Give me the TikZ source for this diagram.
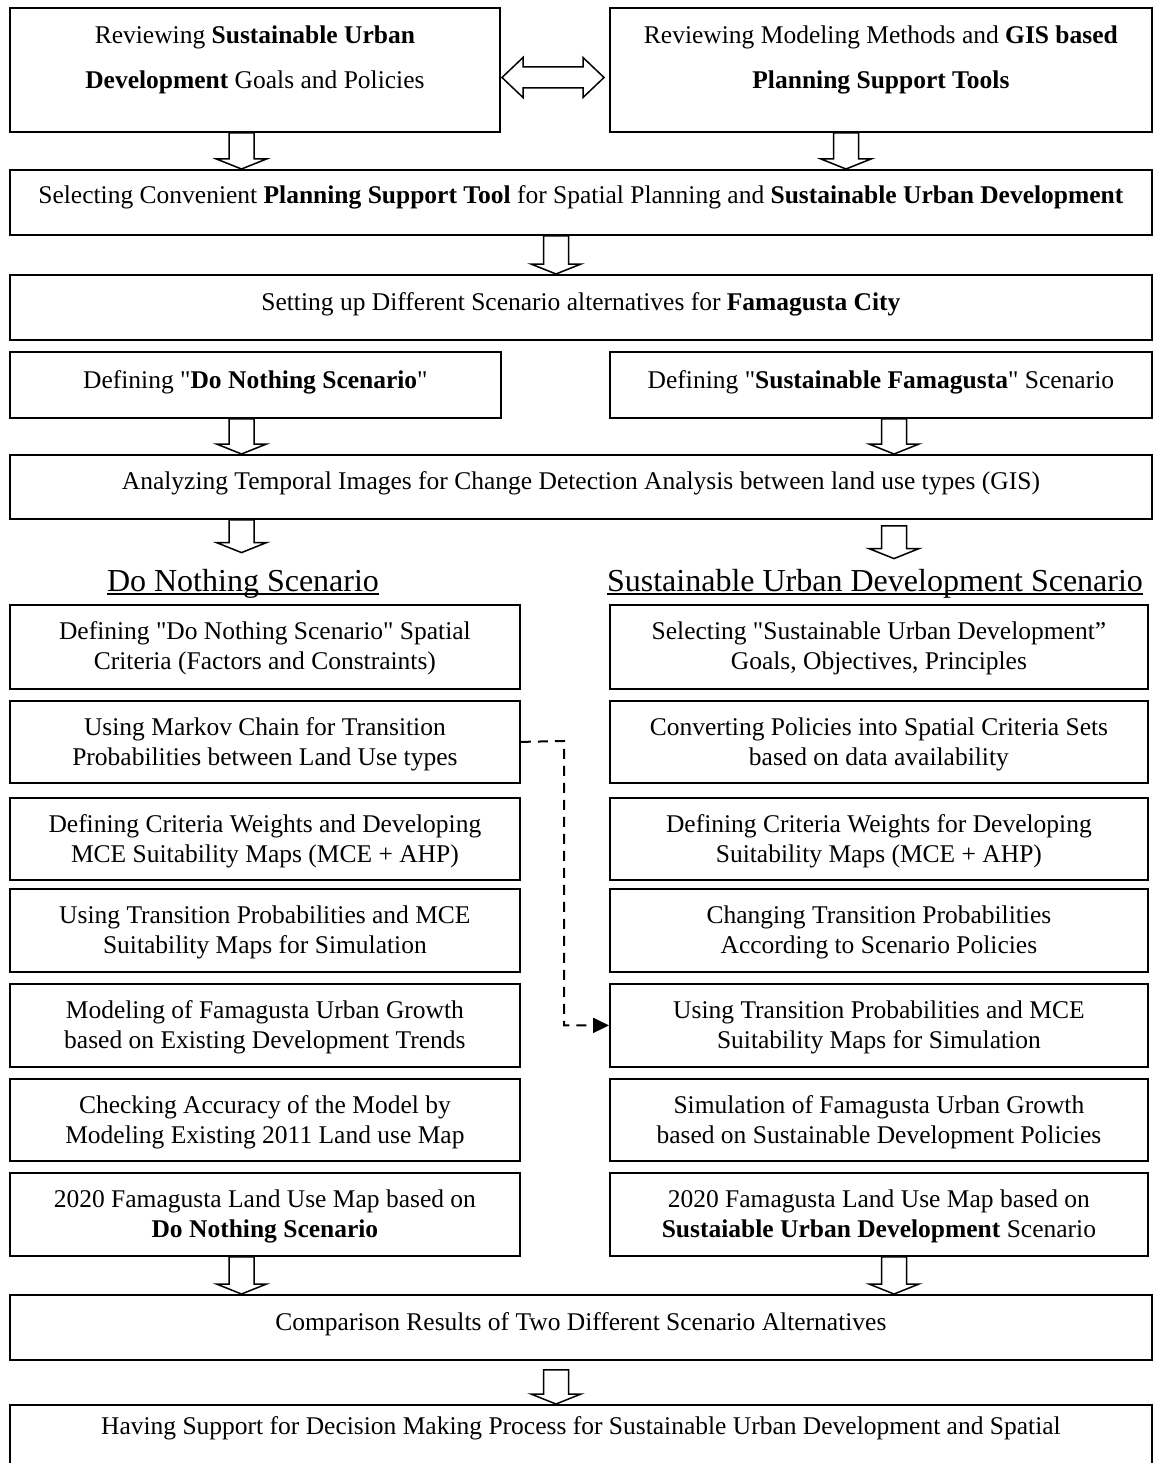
\documentclass[tikz,border=0pt]{standalone}
\usepackage{fontspec}
\setmainfont{Liberation Serif}[Ligatures=TeXOff]
\usetikzlibrary{arrows.meta,calc}

\tikzset{
  box/.style={draw, line width=1.8pt, inner sep=0pt, anchor=north west},
  bodytext/.style={font=\fontsize{25.5}{30}\selectfont, inner sep=0pt, align=center},
  toptext/.style={font=\fontsize{25.5}{45}\selectfont, inner sep=0pt, align=center},
  headtext/.style={font=\fontsize{32}{38}\selectfont, inner sep=0pt, anchor=base},
  blockarrow/.style={draw, line width=1.5pt, line join=miter},
  link/.style={line width=2pt, dash pattern=on 10pt off 7pt, -{Triangle[length=16pt,width=15pt]}},
}

% rectangle given by its corners (x1,y1) and (x2,y2), y measured downwards
\newcommand\panel[5]{\node[box, minimum width={#4pt-#2pt}, minimum height={#5pt-#3pt}] (#1) at (#2,#3) {};}

% hollow block arrow at horizontal position #1, from the y of #2 down to the y of #3
\newcommand\downblock[3]{%
  \path[blockarrow] let \p1=#2, \p2=#3 in
    (#1pt-12.5pt,\y1) -- (#1pt+12.5pt,\y1) -- (#1pt+12.5pt,\y2+10pt) -- (#1pt+25pt,\y2+10pt)
    -- (#1pt,\y2) -- (#1pt-25pt,\y2+10pt) -- (#1pt-12.5pt,\y2+10pt) -- cycle;}

\begin{document}
\begin{tikzpicture}[x=1pt, y=-1pt]
\useasboundingbox (0,0) rectangle (1160,1463);

% ---- upper part
\panel{b1l}{9}{7}{499}{131}
\panel{b1r}{609}{7}{1151}{131}
\panel{b2}{9}{169}{1151}{234}
\panel{b3}{9}{274}{1151}{339}
\panel{b4l}{9}{351}{500}{417}
\panel{b4r}{609}{351}{1151}{417}
\panel{b5}{9}{454}{1151}{518}

\node[toptext, anchor=north] (b1lt) at ($(b1l.north)+(0,4.5)$)
  {\strut Reviewing \textbf{Sustainable Urban}\\ \textbf{Development} Goals and Policies};
\node[toptext, anchor=north] (b1rt) at ($(b1r.north)+(0,4.5)$)
  {\strut Reviewing Modeling Methods and \textbf{GIS based}\\ \textbf{Planning Support Tools}};
\node[bodytext, anchor=base] (b2t) at ($(b2.north)+(0,35)$)
  {Selecting Convenient \textbf{Planning Support Tool} for Spatial Planning and \textbf{Sustainable Urban Development}};
\node[bodytext, anchor=base] (b3t) at ($(b3.north)+(0,36)$)
  {Setting up Different Scenario alternatives for \textbf{Famagusta City}};
\node[bodytext, anchor=base] (b4lt) at ($(b4l.north)+(0,37)$)
  {Defining "\textbf{Do Nothing Scenario}"};
\node[bodytext, anchor=base] (b4rt) at ($(b4r.north)+(0,37)$)
  {Defining "\textbf{Sustainable Famagusta}" Scenario};
\node[bodytext, anchor=base] (b5t) at ($(b5.north)+(0,35)$)
  {Analyzing Temporal Images for Change Detection Analysis between land use types (GIS)};

% double arrow between the two review boxes
\draw[blockarrow] (502,77.5) -- (523,57.5) -- (523,67) -- (583,67) -- (583,57.5) -- (604,77.5)
  -- (583,97.5) -- (583,88) -- (523,88) -- (523,97.5) -- cycle;

% ---- scenario headings
\node[headtext] (hl) at (243,591) {Do Nothing Scenario};
\node[headtext] (hr) at (875,591) {Sustainable Urban Development Scenario};
\draw[line width=1.5pt] ([yshift=-3pt]hl.base west) -- ([yshift=-3pt]hl.base east);
\draw[line width=1.5pt] ([yshift=-3pt]hr.base west) -- ([yshift=-3pt]hr.base east);

% ---- two columns
\panel{l1}{9}{604}{519}{688}
\panel{l2}{9}{700}{519}{782}
\panel{l3}{9}{797}{519}{879}
\panel{l4}{9}{888}{519}{971}
\panel{l5}{9}{983}{519}{1066}
\panel{l6}{9}{1078}{519}{1160}
\panel{l7}{9}{1172}{519}{1255}
\panel{r1}{609}{604}{1147}{688}
\panel{r2}{609}{700}{1147}{782}
\panel{r3}{609}{797}{1147}{879}
\panel{r4}{609}{888}{1147}{971}
\panel{r5}{609}{983}{1147}{1066}
\panel{r6}{609}{1078}{1147}{1160}
\panel{r7}{609}{1172}{1147}{1255}

\node[bodytext, anchor=north] (l1t) at ($(l1.north)+(0,14)$)
  {\strut Defining "Do Nothing Scenario" Spatial\\ Criteria (Factors and Constraints)};
\node[bodytext, anchor=north] (l2t) at ($(l2.north)+(0,14)$)
  {\strut Using Markov Chain for Transition\\ Probabilities between Land Use types};
\node[bodytext, anchor=north] (l3t) at ($(l3.north)+(0,14)$)
  {\strut Defining Criteria Weights and Developing\\ MCE Suitability Maps (MCE + AHP)};
\node[bodytext, anchor=north] (l4t) at ($(l4.north)+(0,14)$)
  {\strut Using Transition Probabilities and MCE\\ Suitability Maps for Simulation};
\node[bodytext, anchor=north] (l5t) at ($(l5.north)+(0,14)$)
  {\strut Modeling of Famagusta Urban Growth\\ based on Existing Development Trends};
\node[bodytext, anchor=north] (l6t) at ($(l6.north)+(0,14)$)
  {\strut Checking Accuracy of the Model by\\ Modeling Existing 2011 Land use Map};
\node[bodytext, anchor=north] (l7t) at ($(l7.north)+(0,14)$)
  {\strut 2020 Famagusta Land Use Map based on\\ \textbf{Do Nothing Scenario}};

\node[bodytext, anchor=north] (r1t) at ($(r1.north)+(0,14)$)
  {\strut Selecting "Sustainable Urban Development”\\ Goals, Objectives, Principles};
\node[bodytext, anchor=north] (r2t) at ($(r2.north)+(0,14)$)
  {\strut Converting Policies into Spatial Criteria Sets\\ based on data availability};
\node[bodytext, anchor=north] (r3t) at ($(r3.north)+(0,14)$)
  {\strut Defining Criteria Weights for Developing\\ Suitability Maps (MCE + AHP)};
\node[bodytext, anchor=north] (r4t) at ($(r4.north)+(0,14)$)
  {\strut Changing Transition Probabilities\\ According to Scenario Policies};
\node[bodytext, anchor=north] (r5t) at ($(r5.north)+(0,14)$)
  {\strut Using Transition Probabilities and MCE\\ Suitability Maps for Simulation};
\node[bodytext, anchor=north] (r6t) at ($(r6.north)+(0,14)$)
  {\strut Simulation of Famagusta Urban Growth\\ based on Sustainable Development Policies};
\node[bodytext, anchor=north] (r7t) at ($(r7.north)+(0,14)$)
  {\strut 2020 Famagusta Land Use Map based on\\ \textbf{Sustaiable Urban Development} Scenario};

% Markov chain probabilities are reused in the sustainable simulation
\coordinate (bend) at (564,741);
\draw[link] (l2.east) -- (bend) |- (r5.west);

% ---- lower part
\panel{cmp}{9}{1294}{1151}{1359}
\panel{fin}{9}{1404}{1151}{1530}
\node[bodytext, anchor=base] (cmpt) at ($(cmp.north)+(0,36)$)
  {Comparison Results of Two Different Scenario Alternatives};
\node[bodytext, anchor=base] (fint) at ($(fin.north)+(0,30)$)
  {Having Support for Decision Making Process for Sustainable Urban Development and Spatial};

% ---- block arrows
\downblock{241.5}{(b1l.south)}{(b2.north)}
\downblock{846}{(b1r.south)}{(b2.north)}
\downblock{556}{(b2.south)}{(b3.north)}
\downblock{241.5}{(b4l.south)}{(b5.north)}
\downblock{894}{(b4r.south)}{(b5.north)}
\downblock{241.5}{(b5.south)}{([yshift=16pt]hl.north)}
\downblock{894}{([yshift=-6pt]b5.south)}{([yshift=10pt]hr.north)}
\downblock{241.5}{(l7.south)}{(cmp.north)}
\downblock{894}{(r7.south)}{(cmp.north)}
\downblock{556}{([yshift=-9pt]cmp.south)}{(fin.north)}
\end{tikzpicture}
\end{document}
